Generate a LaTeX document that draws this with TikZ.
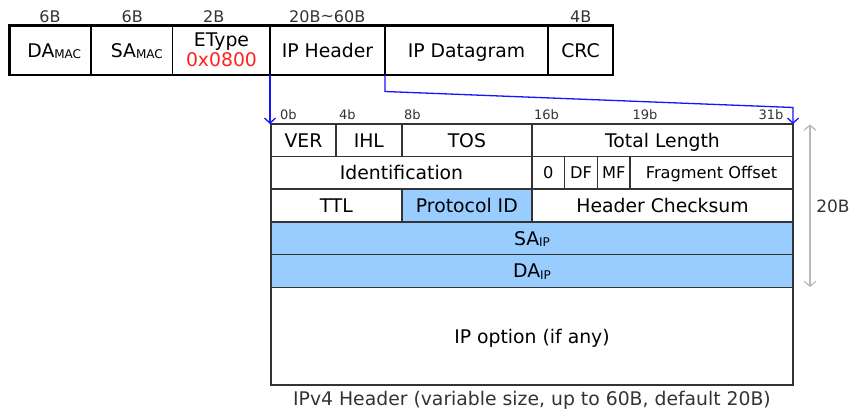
\documentclass[tikz,border=0pt]{standalone}
\usepackage{fontspec}
\setmainfont{DejaVu Sans}
\usetikzlibrary{arrows.meta}
\definecolor{fieldblue}{HTML}{99CCFF}
\definecolor{gridline}{HTML}{333333}
\definecolor{dimgray}{HTML}{B8B8B8}
\definecolor{linkblue}{HTML}{1414FF}
\definecolor{typered}{HTML}{FF2020}

% a rectangular field: [style]{x1}{y1}{x2}{y2}{text}{name}
\newcommand\pktcell[7][]{%
  \node[cellbox,#1,minimum width={(#4-#2)*1pt},minimum height={(#5-#3)*1pt}]
    (#7) at ({(#2+#4)/2},{(#3+#5)/2}) {#6};}
\newcommand\subtag[1]{\raisebox{-1.7pt}{\fontsize{12}{13}\selectfont #1}}

\begin{document}
\begin{tikzpicture}[x=1pt,y=-1pt,
  cellbox/.style={draw=gridline,line width=1.6pt,inner sep=0pt,outer sep=0pt,
    text height=13.7pt,text depth=0pt,font=\fontsize{18.8}{21}\selectfont},
  smallcell/.style={text height=11.8pt,font=\fontsize{16.2}{18}\selectfont},
  framecell/.style={draw=black,line width=1.4pt},
  keyfield/.style={fill=fieldblue},
  sizelbl/.style={anchor=base,inner sep=0pt,font=\fontsize{16}{18}\selectfont,text=gridline},
  bitlbl/.style={anchor=base west,inner sep=0pt,font=\fontsize{13}{15}\selectfont,text=gridline},
  plain/.style={inner sep=0pt,text height=13.7pt,text depth=0pt,font=\fontsize{18.8}{21}\selectfont},
  link/.style={draw=linkblue,line width=1.3pt,-{Straight Barb[length=5pt,width=11pt]}},
  dimline/.style={draw=dimgray,line width=1.2pt,
    {Straight Barb[length=5pt,width=12pt]}-{Straight Barb[length=5pt,width=12pt]}}
]
\useasboundingbox (0,0) rectangle (850,411);

% ---------------- Ethernet frame ----------------
\pktcell[framecell]{9.5}{25.5}{91}{75}{\hspace*{8pt}DA\subtag{MAC}}{damac}
\pktcell[framecell]{91}{25.5}{172.7}{75}{\hspace*{10pt}SA\subtag{MAC}}{samac}
\pktcell[framecell]{172.7}{25.5}{270}{75}{}{etype}
\pktcell[framecell]{270}{25.5}{385}{75}{IP Header}{iphdr}
\pktcell[framecell]{385}{25.5}{548}{75}{IP Datagram}{ipdata}
\pktcell[framecell]{548}{25.5}{613}{75}{CRC}{crc}
\draw[black,line width=2.6pt] (damac.north west) rectangle (crc.south east);
\node[plain] (etname) at (221.5,39.7) {EType};
\node[plain,text=typered] (etval) at (221.5,60) {0x0800};

\node[sizelbl] (sz1) at (50,22.7) {6B};
\node[sizelbl] (sz2) at (132.2,22.7) {6B};
\node[sizelbl] (sz3) at (213.7,22.7) {2B};
\node[sizelbl] (sz4) at (327.2,22.7) {20B\raisebox{1pt}{\textasciitilde}60B};
\node[sizelbl] (sz5) at (580.8,22.7) {4B};

% ---------------- IPv4 header ----------------
\pktcell{271}{124}{336}{156.7}{VER}{ver}
\pktcell{336}{124}{401.7}{156.7}{IHL}{ihl}
\pktcell{401.7}{124}{532}{156.7}{TOS}{tos}
\pktcell{532}{124}{793}{156.7}{Total Length}{totlen}

\pktcell{271}{156.7}{532}{189.3}{Identification}{ident}
\pktcell[smallcell]{532}{156.7}{564.5}{189.3}{0}{zero}
\pktcell[smallcell]{564.5}{156.7}{597.5}{189.3}{DF}{df}
\pktcell[smallcell]{597.5}{156.7}{630}{189.3}{MF}{mf}
\pktcell[smallcell]{630}{156.7}{793}{189.3}{Fragment Offset}{fragoff}

\pktcell{271}{189.3}{401.7}{222}{TTL}{ttl}
\pktcell[keyfield]{401.7}{189.3}{532}{222}{Protocol ID}{proto}
\pktcell{532}{189.3}{793}{222}{Header Checksum}{chksum}

\pktcell[keyfield]{271}{222}{793}{254.7}{SA\subtag{IP}}{saip}
\pktcell[keyfield]{271}{254.7}{793}{287.3}{DA\subtag{IP}}{daip}
\pktcell{271}{287.3}{793}{385}{IP option (if any)}{ipopt}

% bit offsets
\node[bitlbl] (b0) at (280,120) {0b};
\node[bitlbl] (b4) at (339,120) {4b};
\node[bitlbl] (b8) at (404,120) {8b};
\node[bitlbl] (b16) at (534,120) {16b};
\node[bitlbl] (b19) at (632.3,120) {19b};
\node[bitlbl,anchor=base east] (b31) at (783.5,120) {31b};

% header size
\coordinate (dimtop) at (810,124.5);
\coordinate (dimbot) at (810,287);
\draw[dimline] (dimtop) -- (dimbot);
\node[sizelbl,font=\fontsize{17}{19}\selectfont,anchor=center,text height=12.4pt,text depth=0pt] (twenty) at (833,206) {20B};

% caption
\node[plain,text=gridline] (caption) at (532,398.5) {IPv4 Header (variable size, up to 60B, default 20B)};

% expansion of the IP header field
\coordinate (bendA) at (385,91.5);
\coordinate (bendB) at (793,107.5);
\draw[link] (iphdr.south west) -- (iphdr.south west |- ver.north west);
\draw[link] (iphdr.south east) -- (bendA) -- (bendB) -- (totlen.north east);
\end{tikzpicture}
\end{document}
